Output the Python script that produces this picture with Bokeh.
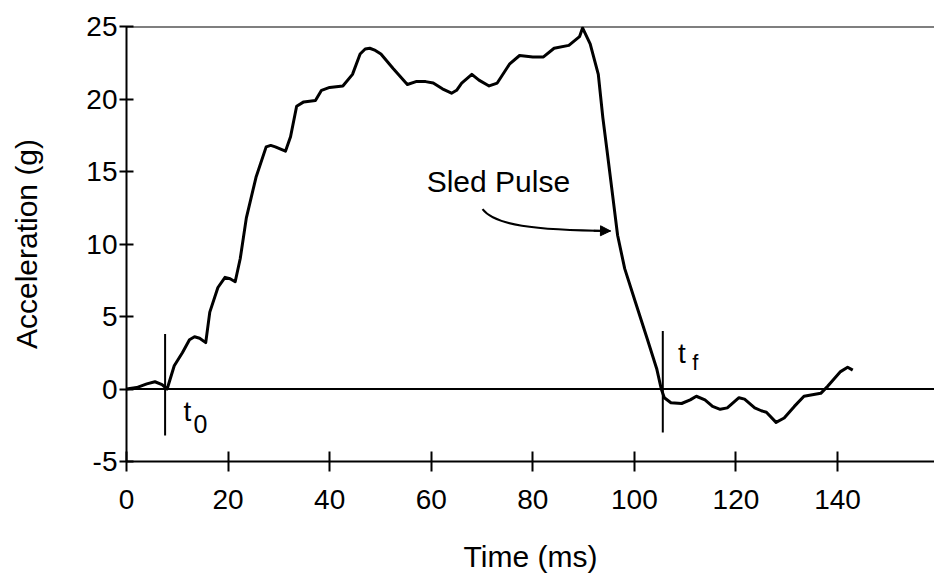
import math
from bokeh.plotting import figure
from bokeh.models import Range1d, Span, Label, Arrow, NormalHead, FixedTicker, ColumnDataSource
from bokeh.embed import file_html
from bokeh.resources import INLINE

# ---- data ----
time_ms = [0, 2, 4, 5.6, 7, 8.0, 9.4, 11.0, 12.4, 13.4, 14.4, 15.6, 16.4, 18.0, 19.4, 20.4, 21.4,
           22.4, 23.6, 25.5, 27.5, 28.4, 29.3, 31.3, 32.3, 33.5, 34.9, 37.2, 38.4, 40.0, 42.6,
           44.5, 46.0, 47.0, 47.9, 49.0, 50.1, 52.5, 55.3, 57.0, 58.9, 60.4, 62.2, 64.0, 65.0,
           66.0, 68.0, 69.4, 71.4, 73.0, 75.4, 77.4, 80.0, 82.1, 84.2, 87.1, 89.2, 89.8, 91.3,
           92.9, 93.8, 94.6, 95.6, 96.7, 98.1, 100.2, 102.5, 104.4, 105.3, 105.9, 107.2, 109.3,
           111.0, 112.2, 113.9, 115.4, 116.9, 118.3, 120.6, 121.7, 123.7, 125.0, 126.0, 127.9,
           129.5, 131.5, 133.4, 136.7, 138.1, 140.6, 142.0, 143.0]
accel_g = [0, 0.1, 0.35, 0.5, 0.3, 0.0, 1.6, 2.5, 3.4, 3.6, 3.5, 3.2, 5.3, 7.0, 7.7, 7.6, 7.4,
           9.0, 11.8, 14.6, 16.7, 16.8, 16.7, 16.4, 17.4, 19.5, 19.8, 19.9, 20.6, 20.8, 20.9,
           21.7, 23.1, 23.45, 23.5, 23.35, 23.1, 22.1, 21.0, 21.2, 21.2, 21.1, 20.7, 20.4, 20.6,
           21.1, 21.7, 21.3, 20.9, 21.1, 22.4, 23.0, 22.9, 22.9, 23.5, 23.7, 24.3, 24.9, 23.8,
           21.7, 18.7, 16.5, 13.7, 10.6, 8.3, 6.0, 3.5, 1.4, 0.0, -0.6, -0.95, -1.0,
           -0.75, -0.5, -0.75, -1.2, -1.4, -1.3, -0.6, -0.7, -1.3, -1.5, -1.6, -2.3,
           -2.0, -1.2, -0.5, -0.3, 0.2, 1.2, 1.5, 1.3]

x_ticks = [0, 20, 40, 60, 80, 100, 120, 140]
y_ticks = [-5, 0, 5, 10, 15, 20, 25]

marker_times = [7.6, 105.6]          # t0, tf
marker_bottoms = [-3.2, -3.0]
marker_tops = [3.8, 4.0]

FONT = "Liberation Sans"

p = figure(width=934, height=575, output_backend="svg", toolbar_location=None,
           x_range=Range1d(0, 159.1), y_range=Range1d(-5, 25),
           min_border_left=126, min_border_right=0, min_border_top=26, min_border_bottom=114)
p.outline_line_color = None
p.grid.visible = False
p.background_fill_color = "white"
p.border_fill_color = "white"

for ax in (p.xaxis, p.yaxis):
    ax.axis_line_width = 2
    ax.axis_line_color = "black"
    ax.major_tick_line_width = 2
    ax.major_tick_line_color = "black"
    ax.minor_tick_line_color = None
    ax.major_label_text_color = "black"
    ax.major_label_text_font = FONT
    ax.axis_label_text_font = FONT
    ax.axis_label_text_font_style = "normal"
    ax.axis_label_text_color = "black"
    ax.axis_label_text_font_size = "30px"

p.xaxis.ticker = FixedTicker(ticks=x_ticks)
p.yaxis.ticker = FixedTicker(ticks=y_ticks)
p.yaxis.major_label_overrides = {-5: "-5"}
p.xaxis.major_tick_in = 10
p.xaxis.major_tick_out = 10
p.yaxis.major_tick_in = 7
p.yaxis.major_tick_out = 7
p.xaxis.major_label_text_font_size = "28px"
p.yaxis.major_label_text_font_size = "28px"
p.xaxis.major_label_standoff = 18
p.yaxis.major_label_standoff = 2

p.xaxis.axis_label = "Time (ms)"
p.xaxis.axis_label_standoff = 28
p.yaxis.axis_label = "Acceleration (g)"
p.yaxis.axis_label_standoff = 40

# reference lines at 0 and 25 g
p.add_layout(Span(location=0, dimension="width", line_color="black", line_width=2))
p.add_layout(Span(location=25, dimension="width", line_color="black", line_width=2))

# t0 / tf markers
p.segment(x0=marker_times, y0=marker_bottoms, x1=marker_times, y1=marker_tops,
          line_color="black", line_width=2)

# the pulse
src = ColumnDataSource(dict(t=time_ms, a=accel_g))
p.line("t", "a", source=src, line_color="black", line_width=3, line_join="round")

# labels
def lab(x, y, text, size, **kw):
    p.add_layout(Label(x=x, y=y, text=text, text_font=FONT, text_font_size=size,
                       text_color="black", **kw))

lab(11.2, -2.65, "t", "28px")
lab(13.2, -3.0, "0", "25px")
lab(108.6, 1.37, "t", "28px")
lab(111.4, 1.0, "f", "22px")
lab(59.1, 13.2, "Sled Pulse", "30px")

# annotation arrow
p.bezier(x0=[70.1], y0=[12.4], x1=[95.3], y1=[10.9],
         cx0=[72.5], cy0=[11.3], cx1=[80.0], cy1=[10.95],
         line_color="black", line_width=2)
p.add_layout(Arrow(end=NormalHead(size=10, fill_color="black", line_color="black"),
                   x_start=92.0, y_start=10.92, x_end=95.3, y_end=10.9,
                   line_color="black", line_width=2))

open("out.html", "w").write(file_html(p, INLINE))
